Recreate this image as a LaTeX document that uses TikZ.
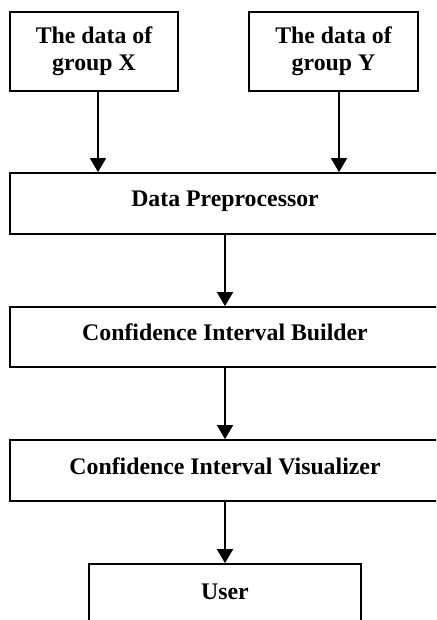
\documentclass[tikz,border=0pt]{standalone}
\usepackage{fontspec}
\setmainfont{Liberation Serif}
\usetikzlibrary{arrows.meta,positioning}
\tikzset{
  box/.style={draw, line width=1.8pt, inner sep=0pt, font=\bfseries\fontsize{23.8}{27}\selectfont},
  srcbox/.style={box, align=center, minimum width=168pt, minimum height=79pt},
  stage/.style={box, minimum width=430pt, minimum height=61pt, text height=16pt, text depth=9pt},
}

\begin{document}
\begin{tikzpicture}[x=1pt, y=-1pt, >={Triangle[width=16pt,length=14pt]}, line width=1.8pt]
    \clip (0,0) rectangle (436,620);
    \node[srcbox] (grpx) at (94,51.5) {The data of\\group X};
    \node[srcbox, minimum width=169pt] (grpy) at (333.5,51.5) {The data of\\group Y};
    \node[stage] (prep) at (225,203.5) {Data Preprocessor};
    \node[stage, minimum height=60pt] (build) at (225,337) {Confidence Interval Builder};
    \node[stage] (vis) at (225,470.5) {Confidence Interval Visualizer};
    \node[stage, minimum width=272pt, minimum height=63pt] (user) at (225,595.5) {User};
    \draw[->] ([xshift=4pt]grpx.south) -- ([xshift=4pt]grpx.south |- prep.north);
    \draw[->] ([xshift=5.5pt]grpy.south) -- ([xshift=5.5pt]grpy.south |- prep.north);
    \draw[->] (prep.south) -- (build.north);
    \draw[->] (build.south) -- (vis.north);
    \draw[->] (vis.south) -- (user.north);
\end{tikzpicture}
\end{document}
